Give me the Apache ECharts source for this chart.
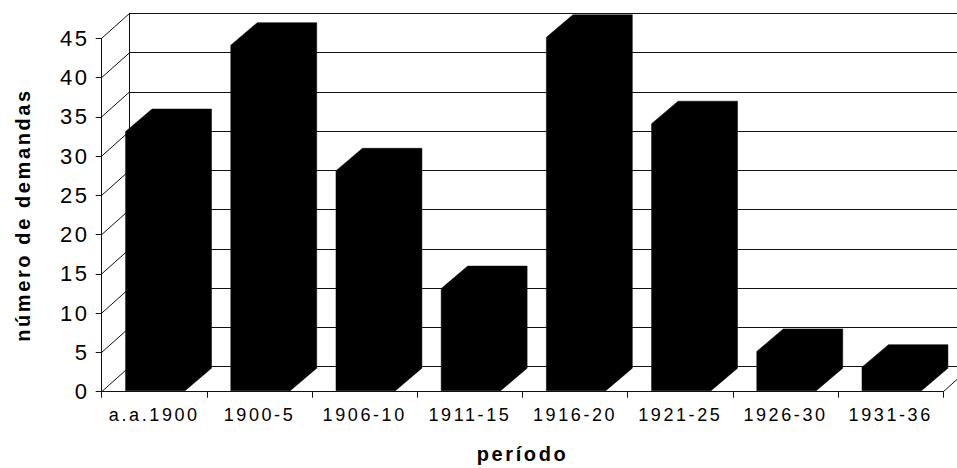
<!DOCTYPE html>
<html>
<head>
<meta charset="utf-8">
<script src="https://cdn.jsdelivr.net/npm/echarts@6/dist/echarts.min.js"></script>
<style>
  html, body { margin: 0; padding: 0; background: #fff; }
  #chart { width: 957px; height: 468px; }
  #chart svg text { letter-spacing: 2.6px; }
</style>
</head>
<body>
<div id="chart"></div>
<script>
// Number of lawsuits filed per period
const periods = ['a.a.1900', '1900-5', '1906-10', '1911-15', '1916-20', '1921-25', '1926-30', '1931-36'];
const demandas = [33, 44, 28, 13, 45, 34, 5, 3];
const yTicks = [0, 5, 10, 15, 20, 25, 30, 35, 40, 45];

// Pseudo-3D depth offsets (pixels) for the back wall and the bar prisms
const WALL_DX = 28, WALL_DY = -25;
const BAR_DX = 26.5, BAR_DY = -22.5;
const FRONT = { left: 101.7, right: 13.7, top: 38.3, bottom: 76.3 };

const FONT = 'Liberation Sans, Arial, Helvetica, sans-serif';
const LINE = '#111';

const chart = echarts.init(document.getElementById('chart'), null, { renderer: 'svg' });

const yMin = yTicks[0], yMax = yTicks[yTicks.length - 1], yStep = yTicks[1] - yTicks[0];

chart.setOption({
  backgroundColor: '#fff',
  animation: false,
  grid: [
    // front plane: axes, ticks and labels
    { left: FRONT.left, right: FRONT.right, top: FRONT.top, bottom: FRONT.bottom, outerBoundsMode: 'none', containLabel: false },
    // back wall: the same scale pushed back by the depth offset
    { left: FRONT.left + WALL_DX, right: FRONT.right - WALL_DX, top: FRONT.top + WALL_DY, bottom: FRONT.bottom - WALL_DY, outerBoundsMode: 'none', containLabel: false }
  ],
  xAxis: [
    {
      gridIndex: 0, type: 'category', data: periods, boundaryGap: true,
      axisLine: { show: true, lineStyle: { color: LINE, width: 1 } },
      axisTick: { show: true, length: 6, inside: false, lineStyle: { color: LINE } },
      axisLabel: { color: '#000', fontFamily: FONT, fontSize: 18, margin: 14, interval: 0 },
      splitLine: { show: false },
      name: 'período', nameLocation: 'middle', nameGap: 52,
      nameTextStyle: { color: '#000', fontFamily: FONT, fontSize: 20, fontWeight: 'bold' }
    },
    {
      gridIndex: 1, type: 'category', data: periods, boundaryGap: true,
      axisLine: { show: false }, axisTick: { show: false }, axisLabel: { show: false }, splitLine: { show: false }
    }
  ],
  yAxis: [
    {
      gridIndex: 0, type: 'value', min: yMin, max: yMax, interval: yStep,
      axisLine: { show: true, lineStyle: { color: LINE, width: 1 } },
      axisTick: { show: true, length: 6, lineStyle: { color: LINE } },
      axisLabel: { color: '#000', fontFamily: FONT, fontSize: 22, margin: 12 },
      splitLine: { show: false },
      name: 'número de demandas', nameLocation: 'middle', nameGap: 69,
      nameTextStyle: { color: '#000', fontFamily: FONT, fontSize: 20, fontWeight: 'bold' }
    },
    {
      gridIndex: 1, type: 'value', min: yMin, max: yMax, interval: yStep,
      axisLine: { show: true, lineStyle: { color: LINE, width: 1 } },
      axisTick: { show: false }, axisLabel: { show: false },
      splitLine: { show: true, lineStyle: { color: LINE, width: 1 } }
    }
  ],
  series: [
    // side-wall diagonals joining each front tick to the back wall
    {
      type: 'custom', xAxisIndex: 0, yAxisIndex: 0, silent: true, z: 1,
      data: yTicks.map(v => [0, v]),
      renderItem: function (params, api) {
        const p = api.coord([api.value(0), api.value(1)]);
        const half = api.size([1, 0])[0] / 2;
        const x0 = p[0] - half;
        return {
          type: 'line',
          shape: { x1: x0, y1: p[1], x2: x0 + WALL_DX, y2: p[1] + WALL_DY },
          style: { stroke: LINE, lineWidth: 1 }
        };
      }
    },
    // right edge of the floor
    {
      type: 'custom', xAxisIndex: 0, yAxisIndex: 0, silent: true, z: 1,
      data: [[periods.length - 1, yMin]],
      renderItem: function (params, api) {
        const p = api.coord([api.value(0), api.value(1)]);
        const half = api.size([1, 0])[0] / 2;
        const x0 = p[0] + half;
        return {
          type: 'line',
          shape: { x1: x0, y1: p[1], x2: x0 + WALL_DX, y2: p[1] + WALL_DY },
          style: { stroke: LINE, lineWidth: 1 }
        };
      }
    },
    // solid black prisms: front face, top face and right side as one outline
    {
      type: 'custom', xAxisIndex: 0, yAxisIndex: 0, z: 5,
      data: demandas.map((v, i) => [i, v]),
      renderItem: function (params, api) {
        const i = api.value(0), v = api.value(1);
        const base = api.coord([i, 0]);
        const top = api.coord([i, v]);
        const band = api.size([1, 0])[0];
        const w = band * 0.565;
        const L = base[0] + 1 - w / 2, R = L + w;
        const B = base[1] - 1, T = top[1] - 1;
        return {
          type: 'polygon',
          shape: {
            points: [
              [L, B], [L, T], [L + BAR_DX, T + BAR_DY], [R + BAR_DX, T + BAR_DY],
              [R + BAR_DX, B + BAR_DY], [R, B]
            ]
          },
          style: { fill: '#000', stroke: '#000', lineWidth: 0.5 }
        };
      }
    }
  ]
});
</script>
</body>
</html>
